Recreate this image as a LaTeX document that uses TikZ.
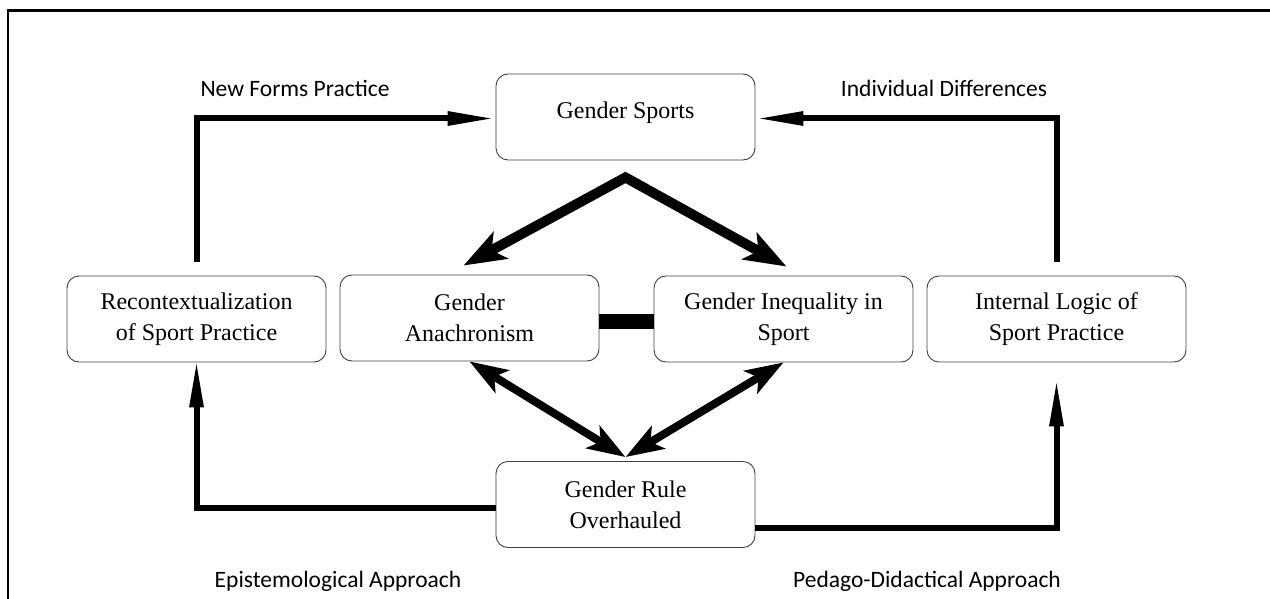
\documentclass[tikz,border=0pt]{standalone}
\usepackage{fontspec}
\setmainfont{Liberation Serif}
\newfontfamily\labelfont{Carlito}
\usetikzlibrary{arrows.meta,calc}
\begin{document}
\begin{tikzpicture}[x=1pt,y=-1pt,
  box/.style={draw=black!75, line width=0.9pt, rounded corners=12pt,
    minimum width=259pt, minimum height=86pt, align=center,
    font=\fontsize{24}{31}\selectfont, inner sep=0pt},
  lbl/.style={font=\labelfont\fontsize{23.5}{28}\selectfont, anchor=base, inner sep=0pt},
  loopline/.style={line width=6pt, line join=miter, -{Triangle[length=48pt,width=13pt]}},
  bigarrow/.style={line width=10pt, line join=miter,
    {Stealth[length=42pt,width=30pt,inset=10pt]}-{Stealth[length=42pt,width=30pt,inset=10pt]}},
  dblarrow/.style={line width=8pt,
    {Stealth[length=38pt,width=26pt,inset=9pt]}-{Stealth[length=38pt,width=26pt,inset=9pt]}},
]
\useasboundingbox (0,0) rectangle (1270,599);
% frame
\draw[line width=2.5pt] (8,599) -- (8,10.5) -- (1270,10.5);

% boxes
\node[box, text depth=14pt] (gs) at (625.5,117) {Gender Sports};
\node[box] (recon) at (196.5,319) {Recontextualization\\of Sport Practice};
\node[box] (anach) at (469.5,318) {Gender\\Anachronism};
\node[box] (ineq) at (783.5,319) {Gender Inequality in\\Sport};
\node[box] (logic) at (1056.5,319) {Internal Logic of\\Sport Practice};
\node[box] (rule) at (625.5,504.5) {Gender Rule\\Overhauled};

% labels
\node[lbl] (l1) at (295,97) {New Forms Practice};
\node[lbl] (l2) at (944,97) {Individual Differences};
\node[lbl] (l3) at (338,587) {Epistemological Approach};
\node[lbl] (l4) at (927,587) {Pedago-Didactical Approach};

% loop connectors
\draw[loopline, shorten <=14pt] (recon.north) |- ($(gs.west)+(0,1.5)$);
\draw[loopline, shorten <=14pt] (logic.north) |- ($(gs.east)+(0,1.5)$);
\draw[loopline, shorten >=-3pt] ($(rule.west)+(0,3.5)$) -| (recon.south);
\draw[loopline, shorten >=16pt] ($(rule.east)+(0,23.5)$) -| (logic.south);

% central arrows
\draw[bigarrow] ($(anach.north)+(-6,-9)$) -- ($(gs.south)+(0,17)$) -- ($(ineq.north)+(3,-9)$);
\draw[line width=15pt] ($(anach.east)+(0,3)$) -- ($(ineq.west)+(0,2)$);
\draw[dblarrow] (anach.south) -- ($(rule.north)+(0,-4)$);
\draw[dblarrow] (ineq.south) -- ($(rule.north)+(0,-4)$);
\end{tikzpicture}
\end{document}
